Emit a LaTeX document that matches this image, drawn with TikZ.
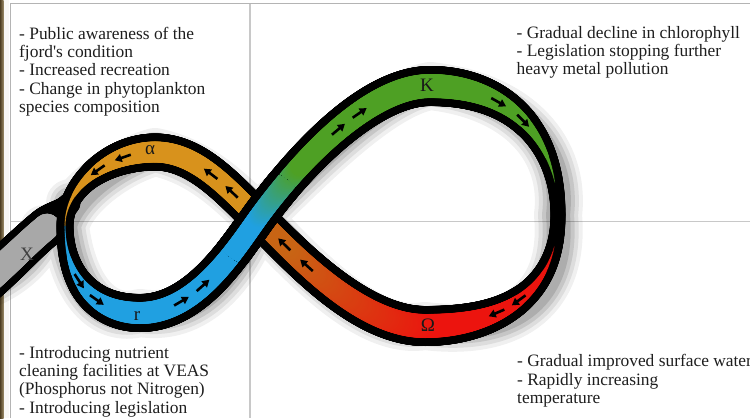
\documentclass[tikz,border=0pt]{standalone}
\usepackage{fontspec}
\setmainfont{Liberation Serif}[Ligatures=TeXOff]
\usetikzlibrary{decorations.markings,arrows.meta}
\definecolor{bandblue}{HTML}{20A0E1}
\definecolor{bandgreen}{HTML}{4EA024}
\definecolor{bandgold}{HTML}{D8921C}
\definecolor{bandred}{HTML}{EC140E}
\definecolor{bandbrown}{HTML}{C86414}
\definecolor{bandgray}{HTML}{A8A8A8}
\definecolor{framegray}{HTML}{B4B4B4}
\definecolor{gridgray}{HTML}{C8C8C8}
\definecolor{stripdark}{HTML}{4E3E22}
\definecolor{striplight}{HTML}{9A8A66}
\definecolor{txt}{HTML}{1E1E1E}

% black outline of a band segment, width varying from #2 to #3 (radii)
\newcommand\bandblack[3]{%
  \path[decoration={markings, mark=between positions 0 and 1 step 0.8pt with {%
    \pgfmathsetmacro\bandS{(\pgfkeysvalueof{/pgf/decoration/mark info/distance from start})/(\pgfdecoratedpathlength)}%
    \pgfmathsetmacro\bandR{#2+(#3-#2)*(1-cos(180*\bandS))/2}%
    \fill[black] (0pt,0pt) circle[radius=\bandR pt];}}, decorate] #1;}
% coloured core: path, r start, r end, colour A, colour B, percent of B, radius factor
\newcommand\bandcolor[7]{%
  \path[decoration={markings, mark=between positions 0 and 1 step 0.8pt with {%
    \pgfmathsetmacro\bandS{(\pgfkeysvalueof{/pgf/decoration/mark info/distance from start})/(\pgfdecoratedpathlength)}%
    \pgfmathsetmacro\bandR{(#2+(#3-#2)*(1-cos(180*\bandS))/2-8)*(#7)}%
    \pgfmathtruncatemacro\bandP{max(0,min(100,#6))}%
    \ifdim\bandR pt>0.3pt\relax \fill[#5!\bandP!#4] (0pt,0pt) circle[radius=\bandR pt];\fi}}, decorate] #1;}
\newcommand\flowarrow{\draw[black, line width=2.6pt, line cap=butt, -{Triangle[length=7pt,width=8pt]}] (-9pt,0pt) -- (8pt,0pt);}
\newcommand\arrowsat[3]{\path[decoration={markings, mark=at position #2 with {\flowarrow}, mark=at position #3 with {\flowarrow}}, decorate] #1;}

\begin{document}
\begin{tikzpicture}[x=1pt,y=-1pt]
\useasboundingbox (0,0) rectangle (750,418);
\clip (0,0) rectangle (750,418);
\fill[white] (0,0) rectangle (750,418);
\shade[left color=stripdark, right color=striplight] (0,0) rectangle (3.5,418);
\fill[white!93!striplight] (3.5,0) rectangle (8.5,418);
% frame and quadrant lines
\draw[framegray, line width=1.6pt] (10.5,418) -- (10.5,3.5) -- (750,3.5);
\draw[gridgray, line width=1.8pt] (250,3.5) -- (250,418);
\draw[gridgray, line width=1.4pt] (10.5,221.5) -- (750,221.5);

\coordinate (R1) at (140,313);
\coordinate (C) at (258,218);
\coordinate (KT) at (430,86);
\coordinate (E) at (558,215);
\coordinate (OB) at (425,326);
\coordinate (AT) at (155,152);
\coordinate (L) at (65,226);
\coordinate (T0) at (-20,287);
\coordinate (J1) at (44,229);
\coordinate (J) at (70,203);

\def\pathSone{(R1) .. controls (195,313) and (233,253) .. (C)}
\def\pathStwo{(C) .. controls (300,160) and (370,86) .. (KT)}
\def\pathSthree{(KT) .. controls (512,86) and (558,140) .. (E)}
\def\pathSfour{(E) .. controls (558,295) and (497,326) .. (OB)}
\def\pathSfive{(OB) .. controls (360,326) and (295,255) .. (C)}
\def\pathSsix{(C) .. controls (225,185) and (195,152) .. (AT)}
\def\pathSseven{(AT) .. controls (110,152) and (65,185) .. (L)}
\def\pathSeight{(L) .. controls (65,280) and (95,313) .. (R1)}
\def\pathTailA{(T0) .. controls (5,266) and (28,242) .. (J1)}
\def\pathTailB{(J1) .. controls (54,220) and (62,211) .. (J)}

% soft drop shadow
\foreach \w/\o in {48/0.06,40/0.08,32/0.10,24/0.12}{
  \draw[black, opacity=\o, line width=\w pt, line cap=round, line join=round, shift={(8,10)}]
    \pathTailA \pathTailB \pathSone \pathStwo \pathSthree \pathSfour \pathSfive \pathSsix \pathSseven \pathSeight;
}

% exit tail X
\bandblack{\pathTailA}{21}{20}
\bandblack{\pathTailB}{20}{11}
\bandcolor{\pathTailA}{21.5}{21}{bandgray}{bandgray}{0}{1}
\bandcolor{\pathTailB}{21}{21}{bandgray}{bandgray}{0}{min(1,max(0,(0.45-\bandS)/0.35))}

% outline of the loop
\bandblack{\pathSone}{19}{18}
\bandblack{\pathStwo}{18}{20}
\bandblack{\pathSthree}{20}{7.5}
\bandblack{\pathSfour}{7.5}{20}
\bandblack{\pathSfive}{20}{18}
\bandblack{\pathSsix}{18}{18.5}
\bandblack{\pathSseven}{18.5}{8.5}
\bandblack{\pathSeight}{8.5}{19}

% coloured cores
\bandcolor{\pathSone}{19}{18}{bandblue}{bandblue}{0}{1}
\bandcolor{\pathStwo}{18}{20}{bandblue}{bandgreen}{100*\bandS/0.3}{1}
\bandcolor{\pathSthree}{20}{7.5}{bandgreen}{bandgreen}{0}{1}
\bandcolor{\pathSfour}{7.5}{20}{bandred}{bandred}{0}{1}
\bandcolor{\pathSfive}{20}{18}{bandred}{bandbrown}{100*\bandS/0.8}{1}
\bandcolor{\pathSsix}{18}{18.5}{bandgold}{bandgold}{0}{1}
\bandcolor{\pathSseven}{18.5}{8.5}{bandgold}{bandgold}{0}{1}
\bandcolor{\pathSeight}{8.5}{19}{bandblue}{bandblue}{0}{1}

% r -> K strand passes over at the crossing
\begin{scope}
  \clip (C) circle (48pt);
  \bandblack{\pathSone}{19}{18}
  \bandblack{\pathStwo}{18}{20}
  \bandcolor{\pathSone}{19}{18}{bandblue}{bandblue}{0}{1}
  \bandcolor{\pathStwo}{18}{20}{bandblue}{bandgreen}{100*\bandS/0.3}{1}
\end{scope}

% flow arrows
\arrowsat{\pathSeight}{0.45}{0.65}
\arrowsat{\pathSone}{0.28}{0.45}
\arrowsat{\pathStwo}{0.54}{0.66}
\arrowsat{\pathSthree}{0.35}{0.5}
\arrowsat{\pathSfour}{0.5}{0.63}
\arrowsat{\pathSfive}{0.67}{0.82}
\arrowsat{\pathSsix}{0.3}{0.52}
\arrowsat{\pathSseven}{0.26}{0.48}

% phase labels
\tikzset{phase/.style={inner sep=0pt, font=\fontsize{19}{19}\selectfont, text=black!90}}
\node[phase] (la) at (150,150) {α};
\node[phase] (lr) at (137,316) {r};
\node[phase] (lk) at (427,85) {K};
\node[phase] (lo) at (428,325) {Ω};
\node[phase, text=black!75] (lx) at (27,254) {X};

% descriptions
\tikzset{desc/.style={anchor=base west, inner sep=0pt, font=\fontsize{17.4}{18.3}\selectfont, text=txt}}
\node[desc] (tl1) at (19,39.3) {- Public awareness of the};
\node[desc] (tl2) at (19,57.6) {fjord's condition};
\node[desc] (tl3) at (19,75.9) {- Increased recreation};
\node[desc] (tl4) at (19,94.2) {- Change in phytoplankton};
\node[desc] (tl5) at (19,112.5) {species composition};

\node[desc] (tr1) at (516.5,38.3) {- Gradual decline in chlorophyll};
\node[desc] (tr2) at (516.5,56.6) {- Legislation stopping further};
\node[desc] (tr3) at (516.5,74.9) {heavy metal pollution};

\node[desc] (bl1) at (19,358.3) {- Introducing nutrient};
\node[desc] (bl2) at (19,376.6) {cleaning facilities at VEAS};
\node[desc] (bl3) at (19,394.9) {(Phosphorus not Nitrogen)};
\node[desc] (bl4) at (19,413.2) {- Introducing legislation};

\node[desc] (br1) at (517,366.7) {- Gradual improved surface water};
\node[desc] (br2) at (517,385) {- Rapidly increasing};
\node[desc] (br3) at (517,403.3) {temperature};
\end{tikzpicture}
\end{document}
